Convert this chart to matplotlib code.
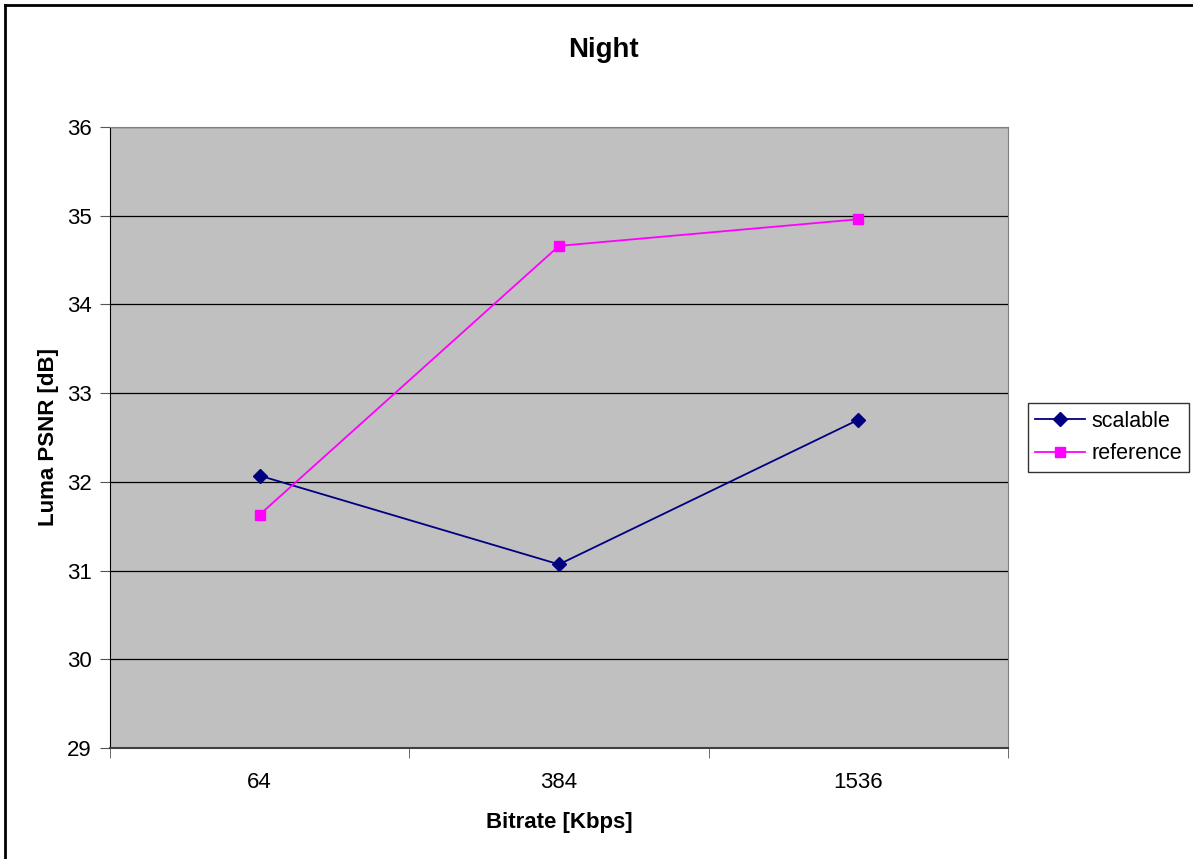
import matplotlib
matplotlib.use('Agg')
import matplotlib.pyplot as plt
from matplotlib.lines import Line2D

plt.rcParams['font.family'] = ['Liberation Sans', 'DejaVu Sans']

bitrates = ['64', '384', '1536']
scalable = [32.07, 31.07, 32.70]
reference = [31.63, 34.66, 34.96]

fig = plt.figure(figsize=(11.93, 8.59), dpi=100)
ax = fig.add_axes([110 / 1193, 111 / 859, 898 / 1193, 621 / 859])
ax.set_facecolor('#c0c0c0')

x = list(range(len(bitrates)))
ax.plot(x, scalable, color='#000080', marker='D', markersize=7, linewidth=1.3,
        label='scalable', zorder=3)
ax.plot(x, reference, color='#ff00ff', marker='s', markersize=7.5, linewidth=1.3,
        label='reference', zorder=3)

ax.set_xlim(-0.5, len(bitrates) - 0.5)
ax.set_ylim(29, 36)
ax.set_yticks(range(29, 37))
ax.yaxis.grid(True, color='black', linewidth=0.9)
ax.set_axisbelow(True)

ax.set_xticks(x)
ax.set_xticklabels(bitrates)
ax.set_xticks([i - 0.5 for i in range(len(bitrates) + 1)], minor=True)
ax.tick_params(axis='x', which='major', length=0, pad=17, labelsize=16)
ax.tick_params(axis='x', which='minor', length=7, color='#555555', direction='out')
ax.tick_params(axis='y', length=7, color='#555555', direction='out', labelsize=16, pad=6)

for s in ['top', 'right']:
    ax.spines[s].set_color('#808080')
ax.spines['left'].set_color('black')
ax.spines['bottom'].set_color('#404040')
ax.spines['bottom'].set_linewidth(1.5)

ax.set_xlabel('Bitrate [Kbps]', fontsize=16, fontweight='bold', labelpad=14)
ax.set_ylabel('Luma PSNR [dB]', fontsize=16, fontweight='bold', labelpad=6)
fig.text(603 / 1193, 1 - 50 / 859, 'Night', fontsize=20, fontweight='bold',
         ha='center', va='center')

leg = ax.legend(loc='center left', bbox_to_anchor=(1.022, 0.5), fontsize=15.5,
                frameon=True, fancybox=False, edgecolor='black', borderpad=0.35,
                handlelength=2.3, handletextpad=0.3, labelspacing=0.55,
                borderaxespad=0)
leg.get_frame().set_linewidth(1.0)

fig.add_artist(Line2D([5 / 1193, 1], [1 - 5 / 859, 1 - 5 / 859], color='black', linewidth=2,
                      transform=fig.transFigure))
fig.add_artist(Line2D([5 / 1193, 5 / 1193], [0, 1 - 5 / 859], color='black', linewidth=2,
                      transform=fig.transFigure))

fig.savefig('out.png', dpi=100)
